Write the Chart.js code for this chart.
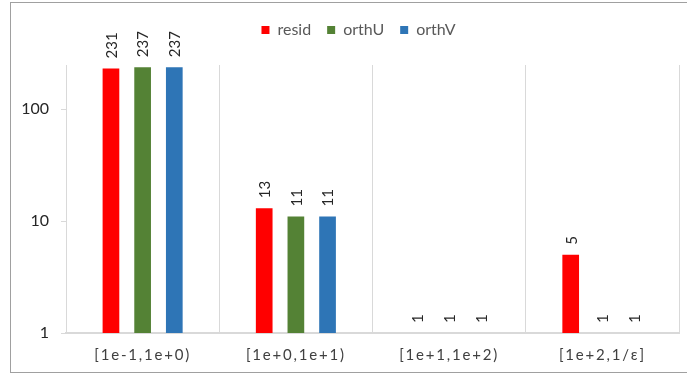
<!DOCTYPE html>
<html>
<head>
<meta charset="utf-8">
<script src="https://cdn.jsdelivr.net/npm/chart.js@4/dist/chart.umd.min.js"></script>
<style>
html,body{margin:0;padding:0;background:#fff;}
#wrap{position:relative;width:688px;height:375px;overflow:hidden;}
#frame{position:absolute;left:10px;top:2px;width:677px;height:371px;border:1.5px solid #a0a0a0;border-right:none;box-sizing:border-box;}
canvas{position:absolute;left:0;top:0;}
</style>
</head>
<body>
<div id="wrap">
<div id="frame"></div>
<canvas id="c" width="688" height="375"></canvas>
</div>
<script>
const categories = ['[1e-1,1e+0)', '[1e+0,1e+1)', '[1e+1,1e+2)', '[1e+2,1/\u03b5]'];
const resid = [231, 13, 1, 5];
const orthU = [237, 11, 1, 1];
const orthV = [237, 11, 1, 1];
const yTicks = [1, 10, 100];
const seriesNames = ['resid', 'orthU', 'orthV'];
const seriesColors = ['#FF0000', '#548235', '#2E75B6'];

const FONT = 'Lato';

const dataLabels = {
  id: 'dataLabels',
  afterLayout(chart) {
    const lg = chart.legend;
    if (lg) {
      lg.left += 19; lg.right += 19;
      lg.top -= 17; lg.bottom -= 17;
    }
  },
  afterDatasetsDraw(chart) {
    const ctx = chart.ctx;
    ctx.save();
    ctx.font = '15px ' + FONT;
    ctx.fillStyle = '#262626';
    chart.data.datasets.forEach((ds, di) => {
      const meta = chart.getDatasetMeta(di);
      meta.data.forEach((el, i) => {
        ctx.save();
        ctx.translate(el.x, el.y - 10);
        ctx.rotate(-Math.PI / 2);
        ctx.textAlign = 'left';
        ctx.textBaseline = 'middle';
        ctx.fillText(String(ds.data[i]), 0, 1);
        ctx.restore();
      });
    });
    ctx.restore();
    ctx.letterSpacing = '1.8px';
  },
  afterDraw(chart) {
    chart.ctx.letterSpacing = '0px';
  }
};

new Chart(document.getElementById('c'), {
  type: 'bar',
  data: {
    labels: categories,
    datasets: [
      { label: seriesNames[0], data: resid, backgroundColor: seriesColors[0] },
      { label: seriesNames[1], data: orthU, backgroundColor: seriesColors[1] },
      { label: seriesNames[2], data: orthV, backgroundColor: seriesColors[2] }
    ]
  },
  options: {
    responsive: false,
    animation: false,
    devicePixelRatio: 1,
    layout: { padding: { left: 0, right: 9, top: 23, bottom: 0 } },
    datasets: { bar: { categoryPercentage: 0.62, barPercentage: 0.527 } },
    plugins: {
      legend: {
        position: 'top',
        labels: { font: { family: FONT, size: 16 }, color: '#595959', boxWidth: 8, boxHeight: 8, padding: 16 }
      },
      tooltip: { enabled: false }
    },
    scales: {
      x: {
        afterFit(scale) { scale.height = 42; },
        grid: { offset: true, color: '#d9d9d9', lineWidth: 1, tickLength: 0, drawTicks: false },
        border: { color: '#d9d9d9', width: 2 },
        ticks: { z: 1, font: { family: FONT, size: 15 }, color: '#404040', padding: 13 }
      },
      y: {
        type: 'logarithmic',
        bounds: 'data',
        min: 1,
        max: 248,
        afterBuildTicks(scale) { scale.ticks = yTicks.map(v => ({ value: v })); },
        afterFit(scale) { scale.width = 66; },
        grid: { drawOnChartArea: false, drawTicks: true, tickLength: 5, color: '#d9d9d9' },
        border: { display: false },
        ticks: { font: { family: FONT, size: 16 }, color: '#262626', padding: 12, callback: v => String(v) }
      }
    }
  },
  plugins: [dataLabels]
});
</script>
</body>
</html>
